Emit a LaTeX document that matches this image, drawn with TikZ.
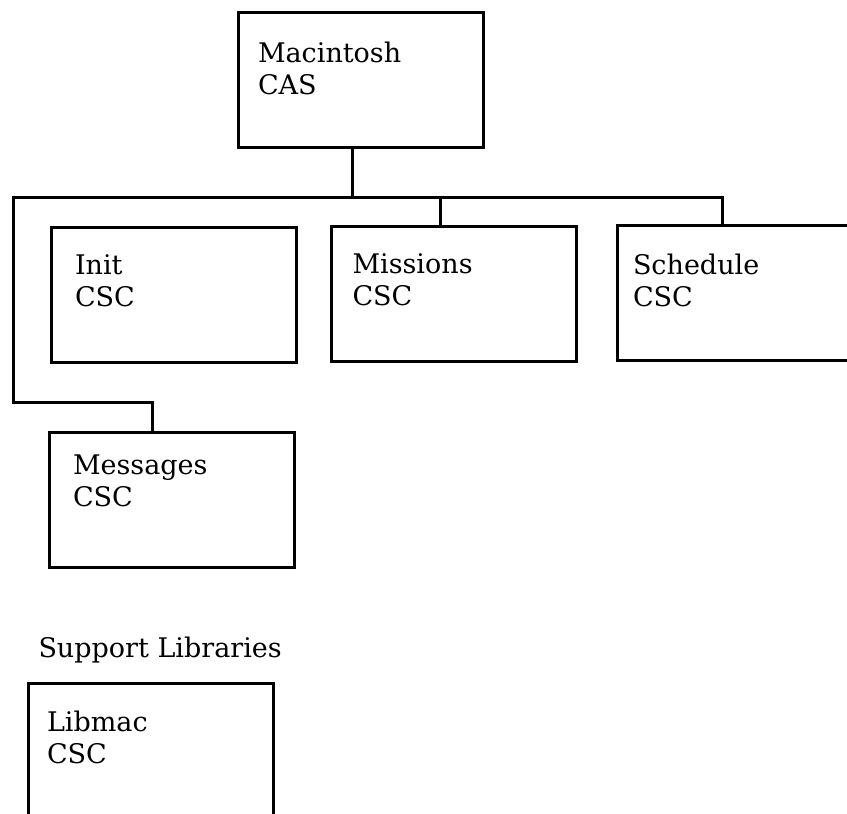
\documentclass[tikz,border=0pt]{standalone}
\usepackage{fontspec}
\setmainfont{DejaVu Serif}
\usetikzlibrary{positioning}

\begin{document}
\begin{tikzpicture}
	[x=1pt,y=-1pt,line width=3pt,
	 csc/.style={draw,minimum width=245pt,minimum height=135pt,inner sep=0pt},
	 boxtext/.style={anchor=north west,align=left,inner sep=0pt,font=\fontsize{27}{32}\selectfont},
	 link/.style={line cap=rect}]
	\clip (0,0) rectangle (847,814);
	\node[csc] (mac) at (360.5,79.5) {};
	\node[csc] (init) at (173.5,294.5) {};
	\node[csc] (miss) at (454,293.5) {};
	\node[csc] (sched) at (739.5,292.5) {};
	\node[csc] (msg) at (171.5,499.5) {};
	\node[csc] (libmac) at (150.5,750.5) {};
	
	\node[boxtext] (mac-t) at ([xshift=20pt,yshift=-30pt]mac.north west) {Macintosh\\CAS};
	\node[boxtext] (init-t) at ([xshift=24pt,yshift=-28pt]init.north west) {Init\\CSC};
	\node[boxtext] (miss-t) at ([xshift=21pt,yshift=-28pt]miss.north west) {Missions\\CSC};
	\node[boxtext] (sched-t) at ([xshift=16pt,yshift=-29pt]sched.north west) {Schedule\\CSC};
	\node[boxtext] (msg-t) at ([xshift=24pt,yshift=-23pt]msg.north west) {Messages\\CSC};
	\node[boxtext] (libmac-t) at ([xshift=19pt,yshift=-28pt]libmac.north west) {Libmac\\CSC};
	\node[boxtext,anchor=base west] (support) at (37,657) {Support Libraries};
	
	\coordinate (trunk) at (352,197);
	\coordinate (busL) at (13,197);
	\coordinate (busM) at (440,197);
	\coordinate (busR) at (722,197);
	\coordinate (drop) at (152,402);
	
	\draw[link] (mac.south -| trunk) -- (trunk);
	\draw[link] (busL) -- (busR);
	\draw[link] (busM) -- (busM |- miss.north);
	\draw[link] (busR) -- (busR |- sched.north);
	\draw[link] (busL) |- (drop) -- (drop |- msg.north);
\end{tikzpicture}
\end{document}
